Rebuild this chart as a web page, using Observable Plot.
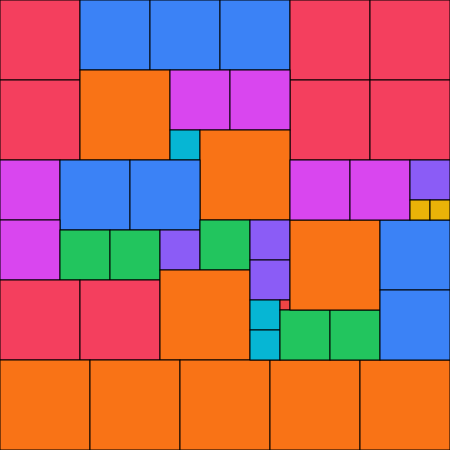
<!DOCTYPE html>
<html>
<head>
<meta charset="utf-8">
<script src="https://cdn.jsdelivr.net/npm/d3@7"></script>
<script src="https://cdn.jsdelivr.net/npm/@observablehq/plot@0.6"></script>
<style>
  html, body { margin: 0; padding: 0; background: #fff; }
  #chart svg { display: block; }
</style>
</head>
<body>
<div id="chart"></div>
<script>
// Square packing: left, top, side of each square
const lefts = [0,0,80,150,220,290,370,290,370,80,170,230,170,200,0,60,130,0,60,110,160,200,0,80,160,0,90,180,270,360,250,250,250,250,280,280,330,290,380,380,290,350,410,410,430];
const tops  = [0,80,0,0,0,0,0,80,80,70,70,70,130,130,160,160,160,220,230,230,230,220,280,280,270,360,360,360,360,360,220,260,300,330,300,310,310,220,220,290,160,160,160,200,200];
const sides = [80,80,70,70,70,80,80,80,80,90,60,60,30,90,60,70,70,60,50,50,40,50,80,80,90,90,90,90,90,90,40,40,30,30,10,50,50,90,70,70,60,60,40,20,20];

const sizes  = [90, 80, 70, 60, 50, 40, 30, 20, 10];
const colors = ["#f97316", "#f43f5e", "#3b82f6", "#d946ef", "#22c55e", "#8b5cf6", "#06b6d4", "#eab308", "#ef4444"];

const squares = sides.map((s, i) => ({x: lefts[i], y: tops[i], s}));

const chart = Plot.plot({
  width: 450,
  height: 450,
  margin: 0,
  x: {domain: [0, 450], axis: null},
  y: {domain: [0, 450], reverse: true, axis: null},
  color: {type: "ordinal", domain: sizes, range: colors},
  marks: [
    Plot.rect(squares, {
      x1: "x",
      x2: d => d.x + d.s,
      y1: "y",
      y2: d => d.y + d.s,
      fill: "s",
      stroke: "black",
      strokeWidth: 1
    })
  ]
});
document.getElementById("chart").appendChild(chart);
</script>
</body>
</html>
